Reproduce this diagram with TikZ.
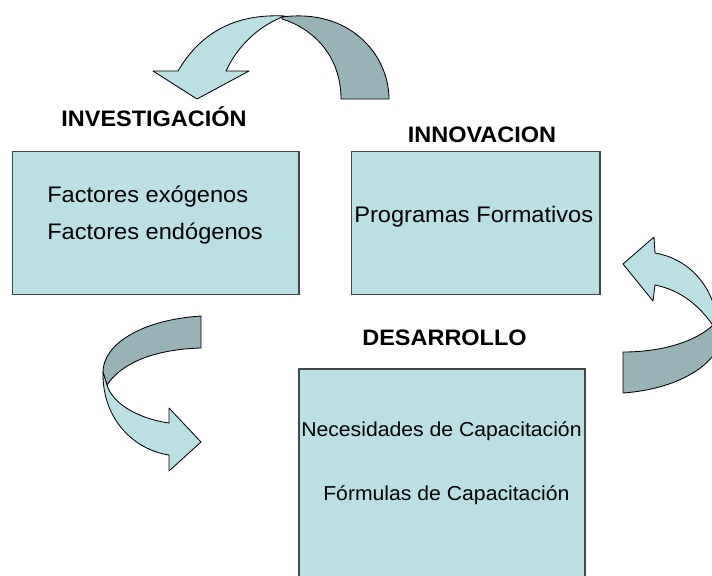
\documentclass[tikz,border=0pt]{standalone}
\usepackage{fontspec}
\usepackage{graphicx}
\setmainfont{Liberation Sans}
\usetikzlibrary{positioning}
\definecolor{cajaazul}{RGB}{187,224,227}
\definecolor{cintagris}{RGB}{151,179,182}
\definecolor{bordegris}{RGB}{64,72,72}
\newcommand{\ancho}[1]{\scalebox{1.05}[1]{#1}}

\begin{document}
\begin{tikzpicture}[
x=0.025cm, y=-0.025cm,
caja/.style={draw=bordegris,line width=1.1pt,fill=cajaazul,inner sep=0pt},
titulo/.style={font=\fontsize{15.9}{18}\selectfont\bfseries,inner sep=0pt,anchor=base},
texto/.style={font=\fontsize{16}{18}\selectfont,inner sep=0pt,anchor=base west},
textochico/.style={font=\fontsize{14.35}{16}\selectfont,inner sep=0pt,anchor=base west},
frente/.style={fill=cajaazul,draw=black,line width=0.6pt,line join=round},
dorso/.style={fill=cintagris,draw=black,line width=0.6pt,line join=round}]
    \useasboundingbox (0,0) rectangle (712,575);
    \clip (0,0) rectangle (712,575);

    % cajas
    \node[caja,minimum width=7.1625cm,minimum height=3.575cm] (cajaInv) at (155.75,223) {};
    \node[caja,minimum width=6.2125cm,minimum height=3.575cm] (cajaInn) at (475.75,223) {};
    \node[caja,minimum width=7.15cm,minimum height=5.775cm] (cajaDes) at (442,484.5) {};

    \node[titulo] (tInv) at (154,126) {\ancho{INVESTIGACIÓN}};
    \node[titulo] (tInn) at (482,142.7) {\ancho{INNOVACION}};
    \node[titulo] (tDes) at (444.5,345) {\ancho{DESARROLLO}};

    \node[texto] (exo) at (47,202) {\ancho{Factores exógenos}};
    \node[texto] (endo) at (47,239) {\ancho{Factores endógenos}};
    \node[texto] (prog) at (354,222.5) {\ancho{Programas Formativos}};
    \node[textochico] (nec) at (301,436.5) {\ancho{Necesidades de Capacitación}};
    \node[textochico] (form) at (323,500.5) {\ancho{Fórmulas de Capacitación}};

    % flecha de arriba
    \draw[dorso] (282,17) .. controls (350,8) and (389,55) .. (389,99) -- (341,99)
        .. controls (341,55) and (312,28) .. (282,19) -- cycle;
    \draw[frente] (197,99) -- (153,71) -- (178,71) .. controls (205,25) and (245,14) .. (285,16)
        .. controls (260,25) and (238,45) .. (226,71) -- (249,71) -- cycle;

    % flecha de la derecha
    \draw[dorso] (623,352) .. controls (665,352) and (700,340) .. (716,322) -- (716,352)
        .. controls (700,375) and (665,390) .. (623,393) -- cycle;
    \draw[frente] (623,264) -- (654,237) -- (655,253) .. controls (685,258) and (708,280) .. (716,312)
        -- (716,330) .. controls (700,305) and (680,290) .. (655,285) -- (653,301) -- cycle;

    % flecha de la izquierda
    \draw[dorso] (201,316) -- (201,348) .. controls (165,349) and (125,358) .. (107,385)
        -- (103,372) .. controls (103,345) and (140,320) .. (201,316) -- cycle;
    \draw[frente] (103,372) .. controls (102,420) and (135,450) .. (169,455) -- (169,471)
        -- (201,442) -- (169,408) -- (169,423) .. controls (135,418) and (112,402) .. (107,385) -- cycle;
\end{tikzpicture}
\end{document}
